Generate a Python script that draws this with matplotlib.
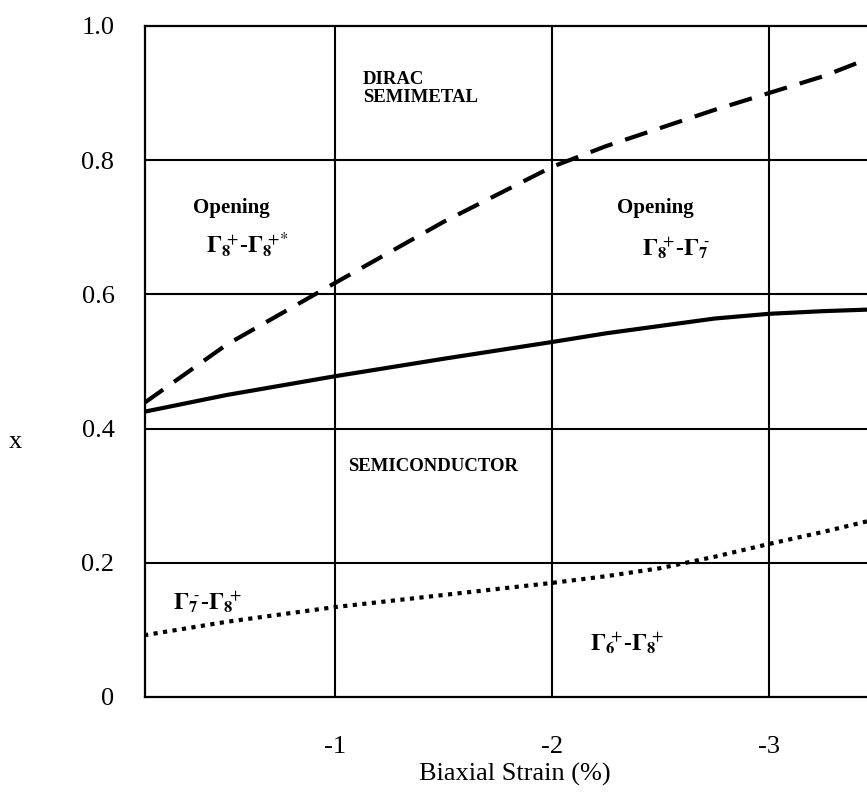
import matplotlib
matplotlib.use('Agg')
import matplotlib.pyplot as plt

plt.rcParams['font.family'] = ['Liberation Serif', 'DejaVu Serif']
plt.rcParams['mathtext.fontset'] = 'stix'

# strain (%) and composition x of the three phase boundaries
strain = [-0.12, -0.5, -1.0, -1.5, -2.0, -2.25, -2.5, -2.75, -3.0, -3.25, -3.52]
x_dirac = [0.438, 0.525, 0.617, 0.708, 0.790, 0.821, 0.848, 0.875, 0.900, 0.925, 0.959]   # dashed
x_gap_close = [0.425, 0.450, 0.478, 0.504, 0.529, 0.542, 0.553, 0.564, 0.571, 0.575, 0.578]  # solid
x_inversion = [0.092, 0.112, 0.134, 0.152, 0.170, 0.180, 0.192, 0.209, 0.228, 0.246, 0.267]  # dotted

xticks = [-1, -2, -3]
xtick_labels = ['-1', '-2', '-3']
yticks = [0, 0.2, 0.4, 0.6, 0.8, 1.0]
ytick_labels = ['0', '0.2', '0.4', '0.6', '0.8', '1.0']

fig = plt.figure(figsize=(8.67, 7.94), dpi=100)
ax = fig.add_axes([0.1672, 0.1222, 0.8478, 0.8451])

ax.plot(strain, x_dirac, color='black', lw=3, ls=(0, (5.6, 3.2)), zorder=3)
ax.plot(strain, x_gap_close, color='black', lw=3, solid_joinstyle='round', zorder=3)
ax.plot(strain, x_inversion, color='black', lw=3, ls=(0, (1, 1.3)), zorder=3)

for t in xticks:
    ax.axvline(t, color='black', lw=1.5, zorder=1)
for t in yticks[1:-1]:
    ax.axhline(t, color='black', lw=1.5, zorder=1)

ax.set_xlim(-0.124, -3.512)
ax.set_ylim(0, 1.0)
ax.set_xticks(xticks)
ax.set_xticklabels(xtick_labels)
ax.set_yticks(yticks)
ax.set_yticklabels(ytick_labels)
ax.tick_params(length=0, labelsize=19)
ax.tick_params(axis='y', pad=22)
ax.tick_params(axis='x', pad=28)
for s in ax.spines.values():
    s.set_linewidth(1.6)

fig.text(0.594, 0.025, 'Biaxial Strain (%)', ha='center', va='center', fontsize=19)
fig.text(0.018, 0.443, 'x', ha='center', va='center', fontsize=19)

# phase labels
bold = dict(fontweight='bold', va='center', ha='left')
ax.text(-1.129, 0.907, 'DIRAC\nSEMIMETAL', fontsize=13.5, linespacing=1.1, **bold)
ax.text(-0.346, 0.729, 'Opening', fontsize=15, **bold)
ax.text(-2.300, 0.729, 'Opening', fontsize=15, **bold)
ax.text(-1.060, 0.344, 'SEMICONDUCTOR', fontsize=13.5, **bold)
ax.text(-0.406, 0.674, r'$\mathbf{\Gamma_8}{}^{\!\!{+}}$-$\mathbf{\Gamma_8}{}^{\!\!{+}{*}}$', fontsize=17, **bold)
ax.text(-2.415, 0.669, r'$\mathbf{\Gamma_8}{}^{\!\!{+}}$-$\mathbf{\Gamma_7}{}^{\!\!‐}$', fontsize=17, **bold)
ax.text(-0.253, 0.142, r'$\mathbf{\Gamma_7}{}^{\!\!‐}$-$\mathbf{\Gamma_8}{}^{\!\!{+}}$', fontsize=17, **bold)
ax.text(-2.175, 0.080, r'$\mathbf{\Gamma_6}{}^{\!\!{+}}$-$\mathbf{\Gamma_8}{}^{\!\!{+}}$', fontsize=17, **bold)

fig.savefig('out.png', dpi=100)
